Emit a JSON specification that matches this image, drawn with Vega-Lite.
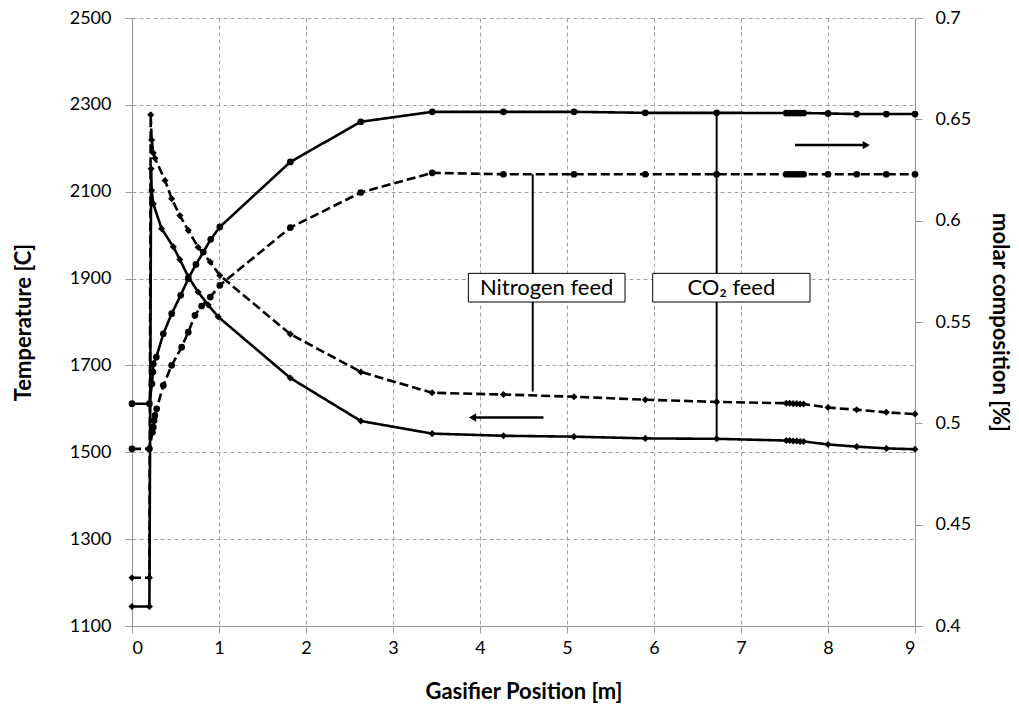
{
  "$schema": "https://vega.github.io/schema/vega-lite/v6.json",
  "width": 783,
  "height": 608,
  "autosize": {"type": "none"},
  "padding": {"left": 132, "top": 18, "right": 104, "bottom": 79},
  "background": "white",
  "config": {
    "view": {"stroke": null},
    "font": "Lato",
    "axis": {
      "labelFont": "Lato", "titleFont": "Lato", "labelColor": "black", "titleColor": "black",
      "labelFontSize": 18, "titleFontSize": 22, "titleFontWeight": "bold",
      "domainColor": "#9a9a9a", "tickColor": "#9a9a9a", "tickSize": 7, "domainWidth": 1.2,
      "gridColor": "#a0a0a0", "gridDash": [4, 3], "gridWidth": 1
    }
  },
  "datasets": {
    "temp": [
      {"feed": "CO2", "i": 1, "x": 0, "t": 1145},
      {"feed": "CO2", "i": 2, "x": 0.2, "t": 1145},
      {"feed": "CO2", "i": 3, "x": 0.22, "t": 2153},
      {"feed": "CO2", "i": 4, "x": 0.226, "t": 2103},
      {"feed": "CO2", "i": 5, "x": 0.245, "t": 2072},
      {"feed": "CO2", "i": 6, "x": 0.34, "t": 2015},
      {"feed": "CO2", "i": 7, "x": 0.475, "t": 1973},
      {"feed": "CO2", "i": 8, "x": 0.55, "t": 1944},
      {"feed": "CO2", "i": 9, "x": 0.647, "t": 1904},
      {"feed": "CO2", "i": 10, "x": 0.76, "t": 1869},
      {"feed": "CO2", "i": 11, "x": 0.877, "t": 1839},
      {"feed": "CO2", "i": 12, "x": 0.99, "t": 1812},
      {"feed": "CO2", "i": 13, "x": 1.82, "t": 1671},
      {"feed": "CO2", "i": 14, "x": 2.63, "t": 1572},
      {"feed": "CO2", "i": 15, "x": 3.45, "t": 1543},
      {"feed": "CO2", "i": 16, "x": 4.27, "t": 1538},
      {"feed": "CO2", "i": 17, "x": 5.08, "t": 1536},
      {"feed": "CO2", "i": 18, "x": 5.9, "t": 1532},
      {"feed": "CO2", "i": 19, "x": 6.72, "t": 1531},
      {"feed": "CO2", "i": 20, "x": 7.52, "t": 1527},
      {"feed": "CO2", "i": 21, "x": 7.56, "t": 1527},
      {"feed": "CO2", "i": 22, "x": 7.6, "t": 1526},
      {"feed": "CO2", "i": 23, "x": 7.64, "t": 1526},
      {"feed": "CO2", "i": 24, "x": 7.68, "t": 1525},
      {"feed": "CO2", "i": 25, "x": 7.72, "t": 1525},
      {"feed": "CO2", "i": 26, "x": 8.0, "t": 1518},
      {"feed": "CO2", "i": 27, "x": 8.33, "t": 1513},
      {"feed": "CO2", "i": 28, "x": 8.67, "t": 1509},
      {"feed": "CO2", "i": 29, "x": 9.0, "t": 1507},
      {"feed": "N2", "i": 1, "x": 0, "t": 1211},
      {"feed": "N2", "i": 2, "x": 0.2, "t": 1211},
      {"feed": "N2", "i": 3, "x": 0.215, "t": 2277},
      {"feed": "N2", "i": 4, "x": 0.226, "t": 2219},
      {"feed": "N2", "i": 5, "x": 0.245, "t": 2189},
      {"feed": "N2", "i": 6, "x": 0.264, "t": 2177},
      {"feed": "N2", "i": 7, "x": 0.38, "t": 2126},
      {"feed": "N2", "i": 8, "x": 0.456, "t": 2084},
      {"feed": "N2", "i": 9, "x": 0.55, "t": 2045},
      {"feed": "N2", "i": 10, "x": 0.647, "t": 2011},
      {"feed": "N2", "i": 11, "x": 0.76, "t": 1972},
      {"feed": "N2", "i": 12, "x": 0.9, "t": 1938},
      {"feed": "N2", "i": 13, "x": 1.01, "t": 1907},
      {"feed": "N2", "i": 14, "x": 1.82, "t": 1772},
      {"feed": "N2", "i": 15, "x": 2.63, "t": 1685},
      {"feed": "N2", "i": 16, "x": 3.45, "t": 1637},
      {"feed": "N2", "i": 17, "x": 4.27, "t": 1633},
      {"feed": "N2", "i": 18, "x": 5.08, "t": 1628},
      {"feed": "N2", "i": 19, "x": 5.9, "t": 1621},
      {"feed": "N2", "i": 20, "x": 6.72, "t": 1616},
      {"feed": "N2", "i": 21, "x": 7.52, "t": 1613},
      {"feed": "N2", "i": 22, "x": 7.56, "t": 1613},
      {"feed": "N2", "i": 23, "x": 7.6, "t": 1612},
      {"feed": "N2", "i": 24, "x": 7.64, "t": 1612},
      {"feed": "N2", "i": 25, "x": 7.68, "t": 1611},
      {"feed": "N2", "i": 26, "x": 7.72, "t": 1611},
      {"feed": "N2", "i": 27, "x": 8.0, "t": 1603},
      {"feed": "N2", "i": 28, "x": 8.33, "t": 1598},
      {"feed": "N2", "i": 29, "x": 8.67, "t": 1592},
      {"feed": "N2", "i": 30, "x": 9.0, "t": 1588}
    ],
    "comp": [
      {"feed": "CO2", "i": 1, "x": 0, "c": 0.5097},
      {"feed": "CO2", "i": 2, "x": 0.2, "c": 0.5097},
      {"feed": "CO2", "i": 3, "x": 0.23, "c": 0.5195},
      {"feed": "CO2", "i": 4, "x": 0.24, "c": 0.5253},
      {"feed": "CO2", "i": 5, "x": 0.245, "c": 0.5294},
      {"feed": "CO2", "i": 6, "x": 0.28, "c": 0.5327},
      {"feed": "CO2", "i": 7, "x": 0.36, "c": 0.5442},
      {"feed": "CO2", "i": 8, "x": 0.456, "c": 0.5541},
      {"feed": "CO2", "i": 9, "x": 0.56, "c": 0.5632},
      {"feed": "CO2", "i": 10, "x": 0.647, "c": 0.5714},
      {"feed": "CO2", "i": 11, "x": 0.735, "c": 0.5784},
      {"feed": "CO2", "i": 12, "x": 0.82, "c": 0.5845},
      {"feed": "CO2", "i": 13, "x": 0.905, "c": 0.5908},
      {"feed": "CO2", "i": 14, "x": 1.01, "c": 0.5969},
      {"feed": "CO2", "i": 15, "x": 1.82, "c": 0.629},
      {"feed": "CO2", "i": 16, "x": 2.63, "c": 0.6488},
      {"feed": "CO2", "i": 17, "x": 3.45, "c": 0.6537},
      {"feed": "CO2", "i": 18, "x": 4.27, "c": 0.6537},
      {"feed": "CO2", "i": 19, "x": 5.08, "c": 0.6537},
      {"feed": "CO2", "i": 20, "x": 5.9, "c": 0.6532},
      {"feed": "CO2", "i": 21, "x": 6.72, "c": 0.6532},
      {"feed": "CO2", "i": 22, "x": 7.52, "c": 0.6531},
      {"feed": "CO2", "i": 23, "x": 7.56, "c": 0.6531},
      {"feed": "CO2", "i": 24, "x": 7.6, "c": 0.6531},
      {"feed": "CO2", "i": 25, "x": 7.64, "c": 0.6531},
      {"feed": "CO2", "i": 26, "x": 7.68, "c": 0.6531},
      {"feed": "CO2", "i": 27, "x": 7.72, "c": 0.6531},
      {"feed": "CO2", "i": 28, "x": 8.0, "c": 0.6529},
      {"feed": "CO2", "i": 29, "x": 8.33, "c": 0.6526},
      {"feed": "CO2", "i": 30, "x": 8.67, "c": 0.6526},
      {"feed": "CO2", "i": 31, "x": 9.0, "c": 0.6526},
      {"feed": "N2", "i": 1, "x": 0, "c": 0.4874},
      {"feed": "N2", "i": 2, "x": 0.2, "c": 0.4874},
      {"feed": "N2", "i": 3, "x": 0.235, "c": 0.4956},
      {"feed": "N2", "i": 4, "x": 0.245, "c": 0.4981},
      {"feed": "N2", "i": 5, "x": 0.254, "c": 0.5014},
      {"feed": "N2", "i": 6, "x": 0.264, "c": 0.5039},
      {"feed": "N2", "i": 7, "x": 0.284, "c": 0.5072},
      {"feed": "N2", "i": 8, "x": 0.36, "c": 0.5187},
      {"feed": "N2", "i": 9, "x": 0.456, "c": 0.5286},
      {"feed": "N2", "i": 10, "x": 0.571, "c": 0.5376},
      {"feed": "N2", "i": 11, "x": 0.647, "c": 0.545},
      {"feed": "N2", "i": 12, "x": 0.724, "c": 0.5533},
      {"feed": "N2", "i": 13, "x": 0.8, "c": 0.5579},
      {"feed": "N2", "i": 14, "x": 0.9, "c": 0.5623},
      {"feed": "N2", "i": 15, "x": 1.01, "c": 0.5681},
      {"feed": "N2", "i": 16, "x": 1.82, "c": 0.5966},
      {"feed": "N2", "i": 17, "x": 2.63, "c": 0.6139},
      {"feed": "N2", "i": 18, "x": 3.45, "c": 0.6236},
      {"feed": "N2", "i": 19, "x": 4.27, "c": 0.6229},
      {"feed": "N2", "i": 20, "x": 5.08, "c": 0.6229},
      {"feed": "N2", "i": 21, "x": 5.9, "c": 0.6229},
      {"feed": "N2", "i": 22, "x": 6.72, "c": 0.6229},
      {"feed": "N2", "i": 23, "x": 7.52, "c": 0.6229},
      {"feed": "N2", "i": 24, "x": 7.56, "c": 0.6229},
      {"feed": "N2", "i": 25, "x": 7.6, "c": 0.6229},
      {"feed": "N2", "i": 26, "x": 7.64, "c": 0.6229},
      {"feed": "N2", "i": 27, "x": 7.68, "c": 0.6229},
      {"feed": "N2", "i": 28, "x": 7.72, "c": 0.6229},
      {"feed": "N2", "i": 29, "x": 8.0, "c": 0.6229},
      {"feed": "N2", "i": 30, "x": 8.33, "c": 0.6229},
      {"feed": "N2", "i": 31, "x": 8.67, "c": 0.6229},
      {"feed": "N2", "i": 32, "x": 9.0, "c": 0.6229}
    ],
    "notes": [
      {"label": "Nitrogen feed", "lx": 4.606, "ltop": 2140, "lbot": 1640, "bx1": 3.866, "bx2": 5.667, "by1": 1912, "by2": 1846, "tx": 4.766, "ty": 1879},
      {"label": "CO₂ feed", "lx": 6.72, "ltop": 2281, "lbot": 1531, "bx1": 5.985, "bx2": 7.793, "by1": 1912, "by2": 1846, "tx": 6.889, "ty": 1879}
    ],
    "arrowT": [{"x1": 3.93, "x2": 4.73, "tip": 3.914, "t": 1580}],
    "arrowC": [{"x1": 7.62, "x2": 8.42, "tip": 8.44, "c": 0.6373}]
  },
  "layer": [
    {
      "layer": [
        {
          "data": {"name": "temp"},
          "mark": {"type": "line", "color": "black", "strokeWidth": 2.6},
          "encoding": {
            "x": {"field": "x", "type": "quantitative", "scale": {"domain": [0, 9], "nice": false},
                  "axis": {"values": [0,1,2,3,4,5,6,7,8,9], "format": "d", "grid": true, "title": "Gasifier Position [m]", "labelPadding": 6, "titlePadding": 24}},
            "y": {"field": "t", "type": "quantitative", "scale": {"domain": [1100, 2500], "nice": false, "zero": false},
                  "axis": {"orient": "left", "values": [1100,1300,1500,1700,1900,2100,2300,2500], "format": "d", "grid": true, "title": "Temperature [C]", "labelPadding": 14, "titlePadding": 34}},
            "strokeDash": {"field": "feed", "type": "nominal", "scale": {"domain": ["CO2", "N2"], "range": [[1, 0], [9, 4]]}, "legend": null},
            "order": {"field": "i", "type": "quantitative"}
          }
        },
        {
          "data": {"name": "temp"},
          "mark": {"type": "point", "shape": "diamond", "filled": true, "color": "black", "opacity": 1, "size": 50},
          "encoding": {
            "x": {"field": "x", "type": "quantitative", "title": "Gasifier Position [m]"},
            "y": {"field": "t", "type": "quantitative", "title": "Temperature [C]"}
          }
        },
        {
          "data": {"name": "notes"},
          "mark": {"type": "rule", "color": "black", "strokeWidth": 2},
          "encoding": {
            "x": {"field": "lx", "type": "quantitative", "title": "Gasifier Position [m]"},
            "y": {"field": "ltop", "type": "quantitative", "title": "Temperature [C]"},
            "y2": {"field": "lbot"}
          }
        },
        {
          "data": {"name": "notes"},
          "mark": {"type": "rect", "fill": "white", "stroke": "black", "strokeWidth": 1},
          "encoding": {
            "x": {"field": "bx1", "type": "quantitative", "title": "Gasifier Position [m]"},
            "x2": {"field": "bx2"},
            "y": {"field": "by1", "type": "quantitative", "title": "Temperature [C]"},
            "y2": {"field": "by2"}
          }
        },
        {
          "data": {"name": "notes"},
          "mark": {"type": "text", "font": "Lato", "fontSize": 22, "color": "black", "align": "center", "baseline": "middle"},
          "encoding": {
            "x": {"field": "tx", "type": "quantitative", "title": "Gasifier Position [m]"},
            "y": {"field": "ty", "type": "quantitative", "title": "Temperature [C]"},
            "text": {"field": "label"}
          }
        },
        {
          "data": {"name": "arrowT"},
          "mark": {"type": "rule", "color": "black", "strokeWidth": 2.6},
          "encoding": {
            "x": {"field": "x1", "type": "quantitative", "title": "Gasifier Position [m]"},
            "x2": {"field": "x2"},
            "y": {"field": "t", "type": "quantitative", "title": "Temperature [C]"}
          }
        },
        {
          "data": {"name": "arrowT"},
          "mark": {"type": "point", "shape": "triangle-left", "filled": true, "color": "black", "opacity": 1, "size": 70},
          "encoding": {
            "x": {"field": "tip", "type": "quantitative", "title": "Gasifier Position [m]"},
            "y": {"field": "t", "type": "quantitative", "title": "Temperature [C]"}
          }
        }
      ]
    },
    {
      "layer": [
        {
          "data": {"name": "comp"},
          "mark": {"type": "line", "color": "black", "strokeWidth": 2.6},
          "encoding": {
            "x": {"field": "x", "type": "quantitative", "title": "Gasifier Position [m]"},
            "y": {"field": "c", "type": "quantitative", "scale": {"domain": [0.4, 0.7], "nice": false, "zero": false},
                  "axis": {"orient": "right", "values": [0.4,0.45,0.5,0.55,0.6,0.65,0.7], "format": ".2~f", "grid": false, "title": "molar composition [%]", "labelPadding": 13, "titlePadding": 17}},
            "strokeDash": {"field": "feed", "type": "nominal", "scale": {"domain": ["CO2", "N2"], "range": [[1, 0], [9, 4]]}, "legend": null},
            "order": {"field": "i", "type": "quantitative"}
          }
        },
        {
          "data": {"name": "comp"},
          "mark": {"type": "point", "shape": "circle", "filled": true, "color": "black", "opacity": 1, "size": 45},
          "encoding": {
            "x": {"field": "x", "type": "quantitative", "title": "Gasifier Position [m]"},
            "y": {"field": "c", "type": "quantitative", "title": "molar composition [%]"}
          }
        },
        {
          "data": {"name": "arrowC"},
          "mark": {"type": "rule", "color": "black", "strokeWidth": 2.6},
          "encoding": {
            "x": {"field": "x1", "type": "quantitative", "title": "Gasifier Position [m]"},
            "x2": {"field": "x2"},
            "y": {"field": "c", "type": "quantitative", "title": "molar composition [%]"}
          }
        },
        {
          "data": {"name": "arrowC"},
          "mark": {"type": "point", "shape": "triangle-right", "filled": true, "color": "black", "opacity": 1, "size": 70},
          "encoding": {
            "x": {"field": "tip", "type": "quantitative", "title": "Gasifier Position [m]"},
            "y": {"field": "c", "type": "quantitative", "title": "molar composition [%]"}
          }
        }
      ]
    }
  ],
  "resolve": {"scale": {"y": "independent", "strokeDash": "shared"}}
}
